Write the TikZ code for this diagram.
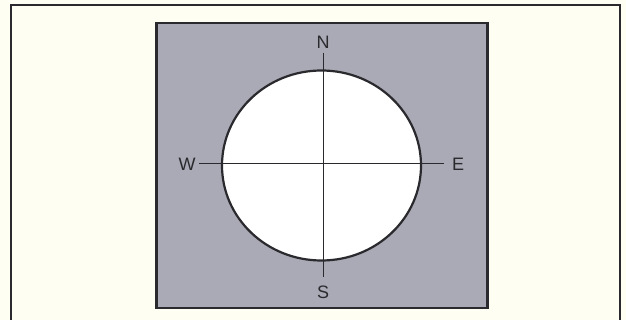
\documentclass[tikz,border=0pt]{standalone}
\usepackage{fontspec}
\setmainfont{Liberation Sans}
\usetikzlibrary{shapes.geometric}
\definecolor{cream}{HTML}{FFFEF2}
\definecolor{panel}{HTML}{A9AAB5}
\definecolor{ink}{HTML}{2A2A2E}
\tikzset{
  lbl/.style={font=\fontsize{18}{18}\selectfont, text=ink, inner sep=0pt},
  axis/.style={draw=ink, line width=1pt},
}
\begin{document}
\begin{tikzpicture}[x=1pt,y=-1pt]
\useasboundingbox (0,0) rectangle (626,320);
\fill[cream] (0,0) rectangle (626,320);
% outer frame (no bottom edge visible)
\draw[ink, line width=2pt] (11,330) -- (11,5) -- (620,5) -- (620,330);
% gray panel
\node[draw=ink, line width=2.4pt, fill=panel, minimum width=331pt, minimum height=285pt, inner sep=0pt] (panel) at (322,165.5) {};
% disc
\node[draw=ink, line width=2.2pt, fill=white, ellipse, minimum width=199pt, minimum height=190pt, inner sep=0pt] (disc) at (321.5,165.5) {};
% labels
\node[lbl] (N) at (323,42) {N};
\node[lbl] (S) at (323,292) {S};
\node[lbl] (W) at (187,164) {W};
\node[lbl] (E) at (458,164) {E};
\coordinate (nt) at (323,53);
\coordinate (sb) at (323,277);
\coordinate (wl) at (199,164);
\coordinate (er) at (444,164);
\draw[axis] (nt) -- (sb);
\draw[axis] (wl) -- (er);
\end{tikzpicture}
\end{document}
